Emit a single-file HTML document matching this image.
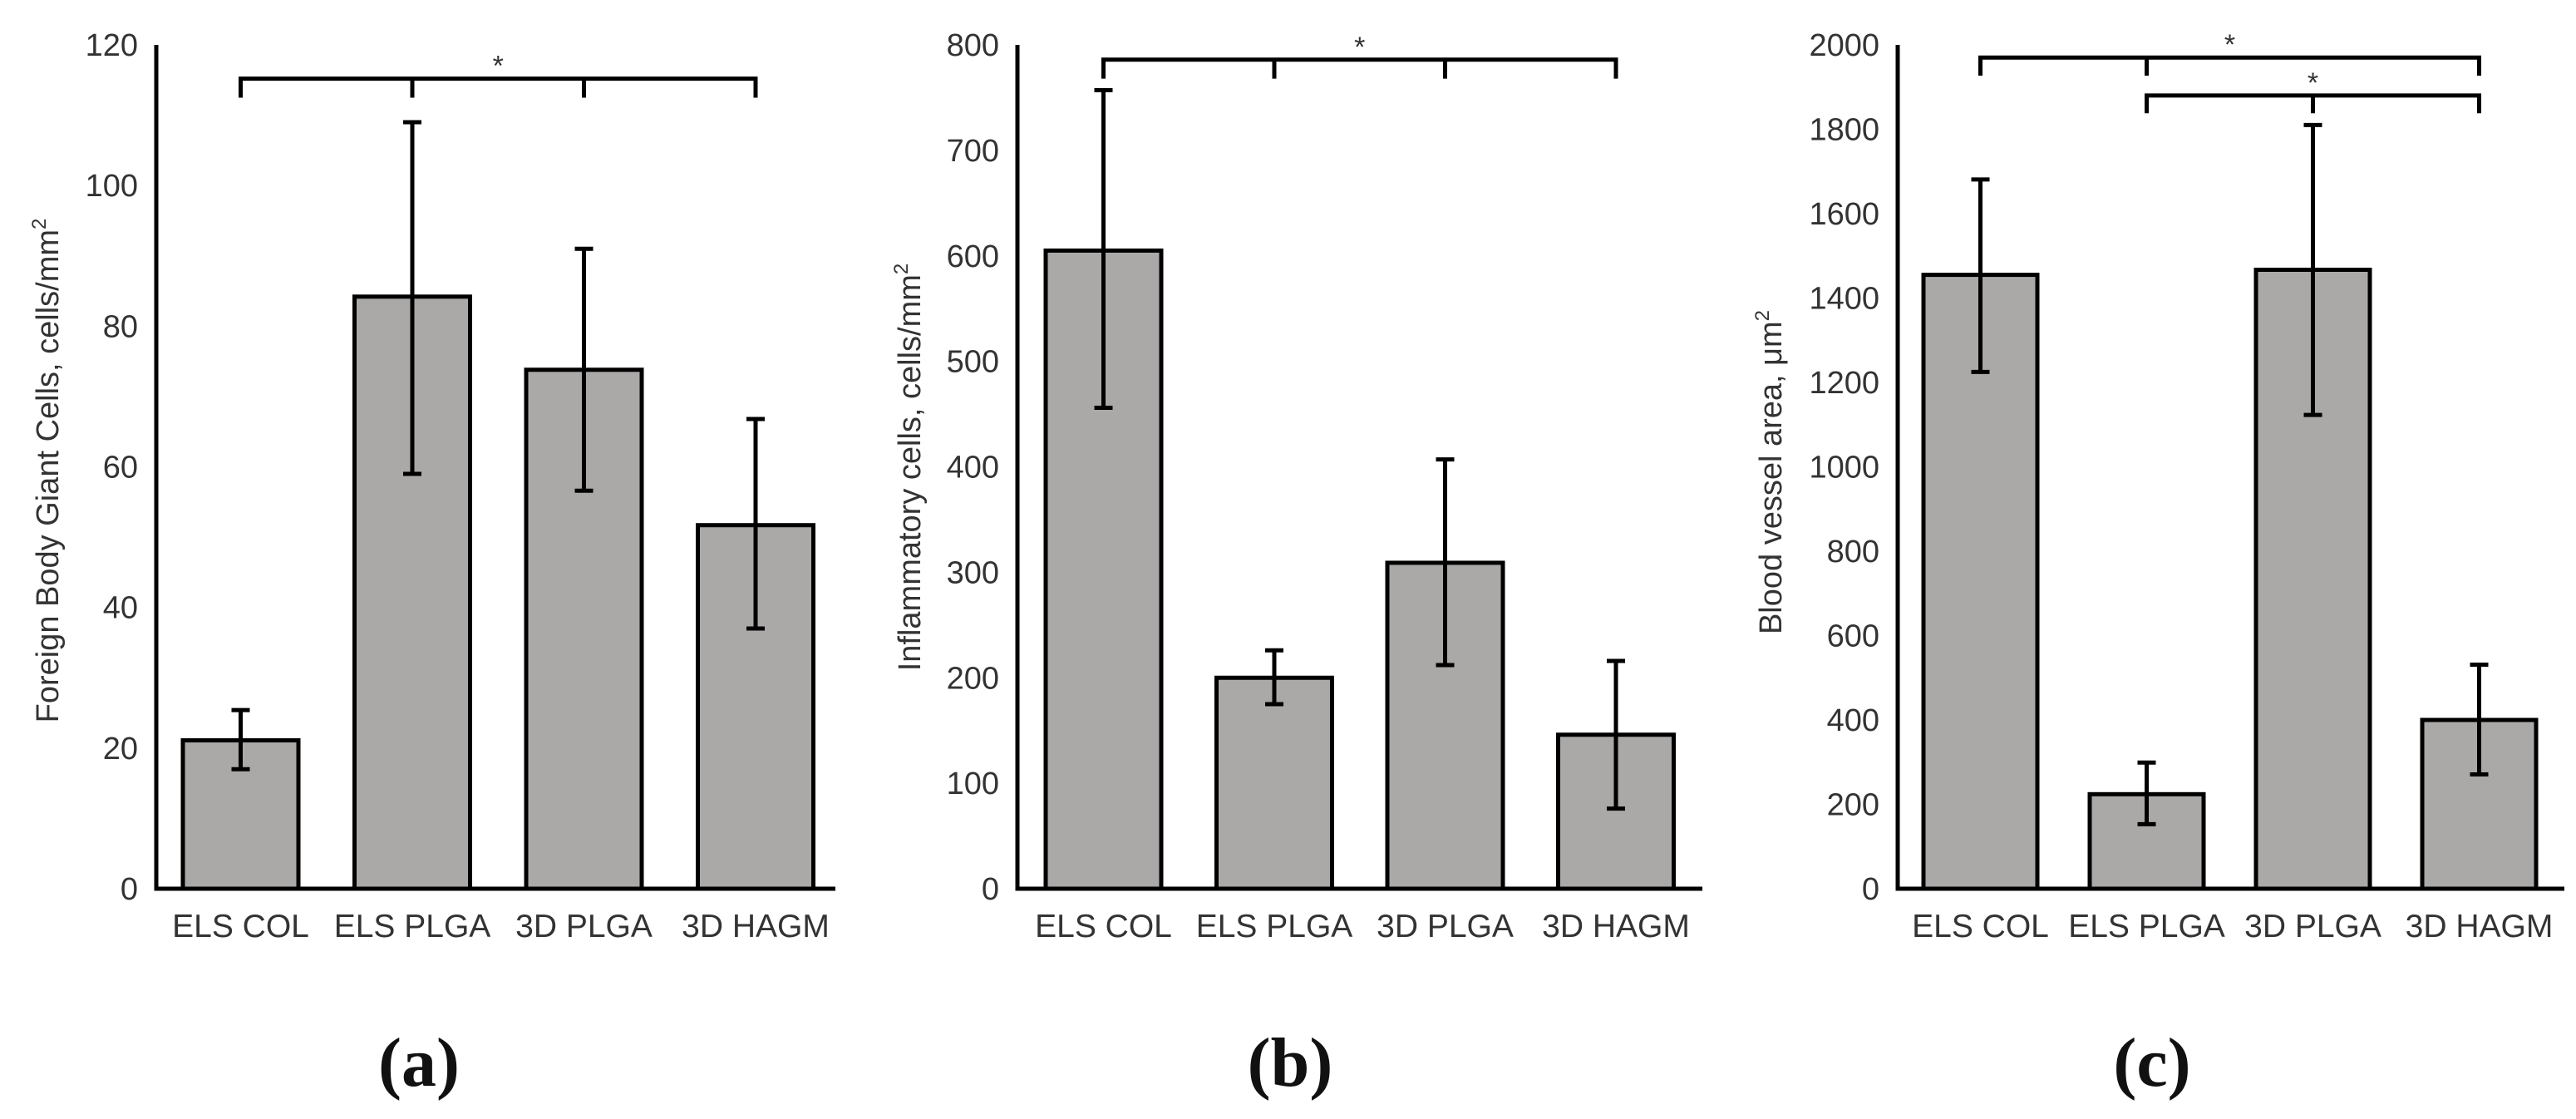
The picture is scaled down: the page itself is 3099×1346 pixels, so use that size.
<!DOCTYPE html>
<html><head><meta charset="utf-8"><style>
html,body{margin:0;padding:0;background:#fff;}
svg{display:block;}
text{font-family:"Liberation Sans",Arial,sans-serif;fill:#333;}
.lbl{font-family:"Liberation Serif",serif;font-weight:bold;fill:#111;}
</style></head><body>
<svg id="fig" width="3099" height="1346" viewBox="0 0 3099 1346" xmlns="http://www.w3.org/2000/svg"></svg>
<script>
const categories = ["ELS COL","ELS PLGA","3D PLGA","3D HAGM"];
const valuesA = [21.1, 84.2, 73.8, 51.7];
const errHiA = [25.4, 109, 91, 66.8];
const errLoA = [17, 59, 56.6, 37];
const ticksA = [0,20,40,60,80,100,120];
const valuesB = [605, 200, 309, 146];
const errHiB = [757, 226, 407, 216];
const errLoB = [456, 175, 212, 76];
const ticksB = [0,100,200,300,400,500,600,700,800];
const valuesC = [1455, 224, 1467, 400];
const errHiC = [1681, 299, 1810, 531];
const errLoC = [1225, 153, 1123, 271];
const ticksC = [0,200,400,600,800,1000,1200,1400,1600,1800,2000];

const NS="http://www.w3.org/2000/svg";
const svg=document.getElementById('fig');
function mk(tag,attrs,parent){const e=document.createElementNS(NS,tag);for(const k in attrs)e.setAttribute(k,attrs[k]);(parent||svg).appendChild(e);return e;}

const panels=[
 {id:'a',ax:188,axEnd:1005,max:120,vals:valuesA,hi:errHiA,lo:errLoA,ticks:ticksA,firstBar:220,step:206.5,bw:139,
  ylabel:'Foreign Body Giant Cells, cells/mm',ylx:57,yly:566,tag:'(a)',tagx:504,
  brackets:[{y:115.2,end:112.5,from:0,to:3,mids:[1,2]}]},
 {id:'b',ax:1224,axEnd:2048,max:800,vals:valuesB,hi:errHiB,lo:errLoB,ticks:ticksB,firstBar:1258,step:205.5,bw:139,
  ylabel:'Inflammatory cells, cells/mm',ylx:1094,yly:562,tag:'(b)',tagx:1552,
  brackets:[{y:786,end:768,from:0,to:3,mids:[1,2]}]},
 {id:'c',ax:2283,axEnd:3085,max:2000,vals:valuesC,hi:errHiC,lo:errLoC,ticks:ticksC,firstBar:2314,step:200,bw:137,
  ylabel:'Blood vessel area, μm',ylx:2130,yly:568,tag:'(c)',tagx:2589,
  brackets:[{y:1970,end:1927,from:0,to:3,mids:[1]},{y:1880,end:1838,from:1,to:3,mids:[2]}]}
];
const plotBase=1069, plotTop=54;

panels.forEach(p=>{
  const g=mk('g',{});
  
  
  const y=v=>plotBase-(v/p.max)*(plotBase-plotTop);
  const cx=i=>p.firstBar+i*p.step+p.bw/2;
  p.ticks.forEach(t=>{
    const tx=mk('text',{x:p.ax-22,y:y(t)+13,'text-anchor':'end','font-size':38},g);
    tx.textContent=t;
    
    
  });
  p.vals.forEach((v,i)=>{
    const r=mk('rect',{x:p.firstBar+i*p.step,y:y(v),width:p.bw,height:plotBase-y(v),fill:'#aba9a7',stroke:'#000','stroke-width':5},g);
    
    
    const eb=mk('path',{d:`M${cx(i)} ${y(p.hi[i])}V${y(p.lo[i])}M${cx(i)-11} ${y(p.hi[i])}H${cx(i)+11}M${cx(i)-11} ${y(p.lo[i])}H${cx(i)+11}`,stroke:'#000','stroke-width':5,fill:'none'},g);
    
    
    const cl=mk('text',{x:cx(i),y:1127,'text-anchor':'middle','font-size':39},g);
    cl.textContent=categories[i];
    
    
  });
  const axes=mk('path',{d:`M${p.ax} ${plotTop}V${plotBase}H${p.axEnd}`,stroke:'#000','stroke-width':5,fill:'none'},g);
  
  
  p.brackets.forEach(b=>{
    const by=y(b.y), be=y(b.end);
    let d=`M${cx(b.from)} ${be}V${by}H${cx(b.to)}V${be}`;
    b.mids.forEach(m=>{d+=`M${cx(m)} ${by}V${be}`;});
    const br=mk('path',{d:d,stroke:'#000','stroke-width':5,fill:'none'},g);
    
    
    const sx=(cx(b.from)+cx(b.to))/2;
    const st=mk('text',{x:sx,y:by-4,'text-anchor':'middle','font-size':34},g);
    st.textContent='*';
    
    
  });
  const yl=mk('text',{x:0,y:0,'text-anchor':'middle','font-size':38,transform:`translate(${p.ylx+13},${p.yly}) rotate(-90)`},g);
  yl.textContent=p.ylabel;
  const sup=mk('tspan',{'font-size':24,dy:-15},yl);
  sup.textContent='2';
  
  
  const tg=mk('text',{x:p.tagx,y:1306,'text-anchor':'middle','font-size':84,class:'lbl'},g);
  tg.textContent=p.tag;
  
  
});
</script>
</body></html>
